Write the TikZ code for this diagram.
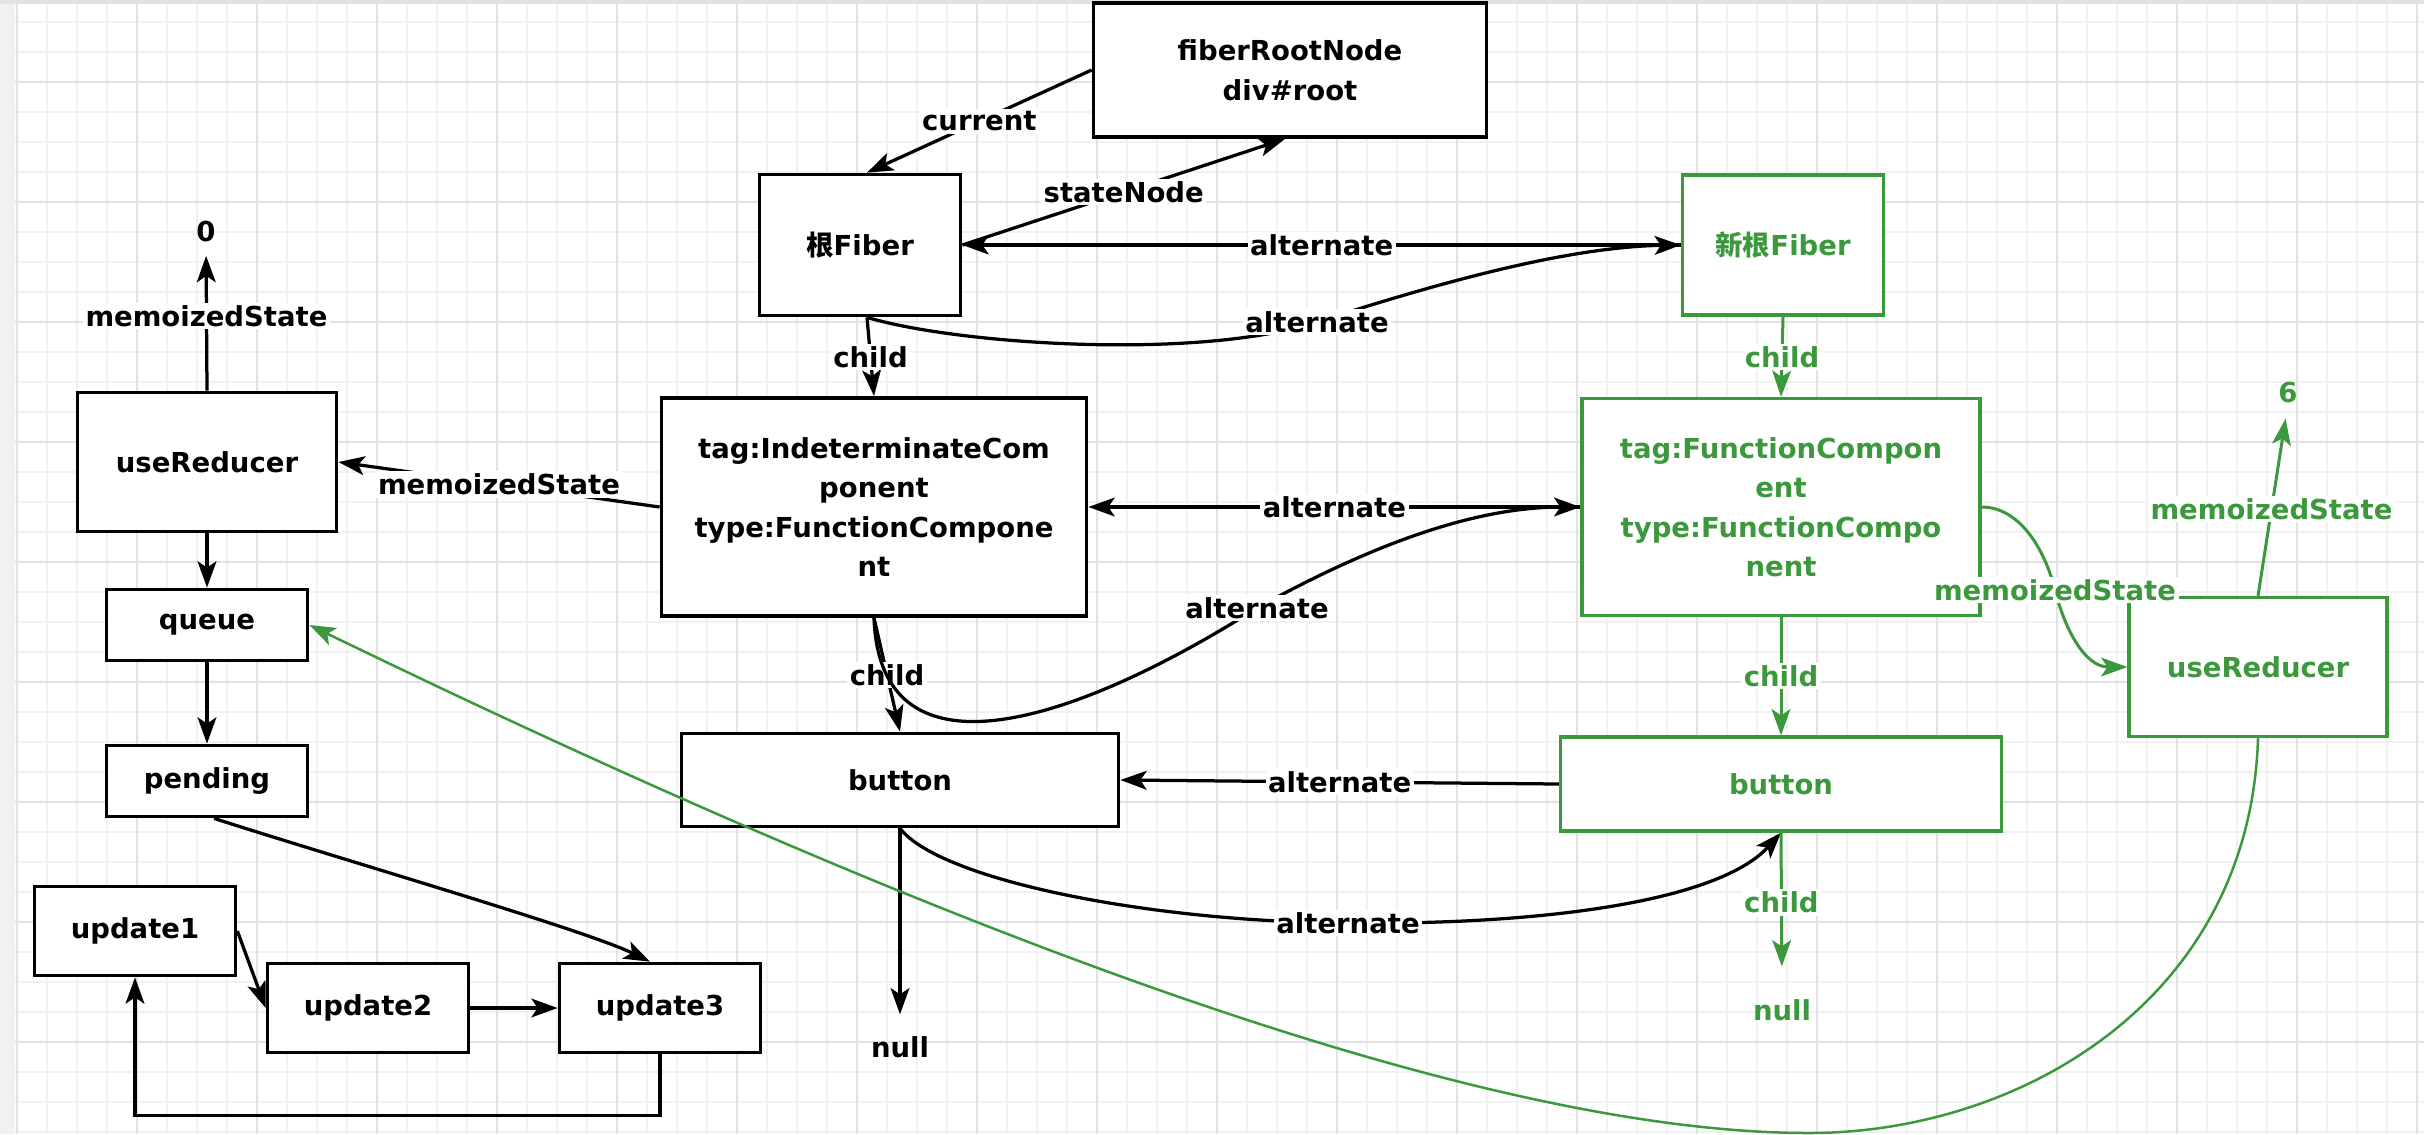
\documentclass[tikz,border=0pt]{standalone}
\usepackage{fontspec}
\setmainfont{DejaVu Sans}
\newfontfamily\cjk{Noto Sans CJK SC}
\usetikzlibrary{arrows.meta,calc}
\definecolor{gr}{RGB}{60,152,60}
\definecolor{gmin}{RGB}{241,241,241}
\definecolor{gmaj}{RGB}{226,226,226}
\newcommand\lblfont{\fontsize{11pt}{15.8pt}\selectfont\bfseries}
\tikzset{
 box/.style={draw=black, line width=1.5pt, fill=white, align=center, inner sep=0pt, font=\lblfont},
 gbox/.style={box, draw=gr, text=gr, line width=1.3pt},
 term/.style={inner sep=0pt, font=\lblfont},
 arr/.style={-{Stealth[length=10.5pt,width=7.5pt,inset=2.5pt]}, line width=1.3pt},
 garr/.style={arr, draw=gr, line width=1.2pt},
 lbl/.style={fill=white, inner sep=1pt, font=\lblfont, text=black},
 glbl/.style={lbl, text=gr},
}
\begin{document}
\begin{tikzpicture}[x=0.4pt,y=-0.4pt]
\useasboundingbox (0,0) rectangle (2424,1134);
\fill[white] (0,0) rectangle (2424,1134);
% grid
\foreach \x in {17,47,...,2424} \draw[gmin, line width=0.5pt] (\x,0) -- (\x,1134);
\foreach \y in {22,52,...,1134} \draw[gmin, line width=0.5pt] (0,\y) -- (2424,\y);
\foreach \x in {17,137,...,2424} \draw[gmaj, line width=0.6pt] (\x,0) -- (\x,1134);
\foreach \y in {82,202,...,1134} \draw[gmaj, line width=0.6pt] (0,\y) -- (2424,\y);
\fill[gmin] (0,0) rectangle (15,1134);
\fill[gmaj] (0,0) rectangle (2424,4);

% nodes
\node[box, minimum width=157.2pt, minimum height=53.6pt] (root) at (1290,70) {fiberRootNode\\div\#root};
\node[box, minimum width=80.4pt, minimum height=56.4pt] (rf) at (860,245) {{\cjk 根}Fiber};
\node[gbox, minimum width=80.4pt, minimum height=56pt] (nrf) at (1783,245) {{\cjk 新根}Fiber};
\node[box, minimum width=170pt, minimum height=87.2pt] (ic) at (874,507) {tag:IndeterminateCom\\ponent\\type:FunctionCompone\\nt};
\node[gbox, minimum width=159.2pt, minimum height=86.8pt] (gfc) at (1781,507) {tag:FunctionCompon\\ent\\type:FunctionCompo\\nent};
\node[box, minimum width=103.6pt, minimum height=55.6pt] (bur) at (207,462) {useReducer};
\node[gbox, minimum width=103.2pt, minimum height=55.6pt] (gur) at (2258,667) {useReducer};
\node[box, minimum width=80.4pt, minimum height=28.4pt] (queue) at (207,625) {queue};
\node[box, minimum width=80.4pt, minimum height=28.4pt] (pending) at (207,781) {pending};
\node[box, minimum width=80.4pt, minimum height=35.6pt] (u1) at (135,931) {update1};
\node[box, minimum width=80.4pt, minimum height=35.6pt] (u2) at (368,1008) {update2};
\node[box, minimum width=80.4pt, minimum height=35.6pt] (u3) at (660,1008) {update3};
\node[box, minimum width=174.8pt, minimum height=37.2pt] (btn) at (900,780) {button};
\node[gbox, minimum width=176.4pt, minimum height=37.6pt] (gbtn) at (1781,784) {button};
\node[term] (null1) at (900,1047) {null};
\node[term, text=gr] (null2) at (1782,1010) {null};
\node[term] (zero) at (206,231) {0};
\node[term, text=gr] (six) at (2288,392) {6};

% black connectors
\draw[arr] (root.west) -- node[lbl]{current} ($(rf.north)+(7,0)$);
\draw[arr] (rf.east) -- node[lbl]{stateNode} ($(root.south)+(-5,0)$);
\draw[arr] (nrf.west) -- node[lbl]{alternate} (rf.east);
\draw[arr] ($(rf.south)+(7,0)$) .. controls (960,345) and (1200,360) .. (1317,322) node[lbl]{alternate} .. controls (1420,289) and (1560,247) .. (nrf.west);
\draw[arr] ($(rf.south)+(7,0)$) -- node[lbl]{child} (ic.north);
\draw[arr] (ic.west) -- node[lbl]{memoizedState} (bur.east);
\draw[arr, shorten >=5.6pt] (bur.north) -- node[lbl]{memoizedState} (zero.south);
\draw[arr] (bur.south) -- (queue.north);
\draw[arr] (queue.south) -- (pending.north);
\draw[arr] ($(pending.south)+(7,0)$) .. controls (350,862) and (585,930) .. ($(u3.north)+(-10,0)$);
\draw[arr] (u1.east) -- (u2.west);
\draw[arr] (u2.east) -- (u3.west);
\draw[arr] (u3.south) -- ++(0,61) -| (u1.south);
\draw[arr] (gfc.west) -- node[lbl]{alternate} (ic.east);
\draw[arr] (ic.south) -- node[lbl]{child} (btn.north);
\draw[arr] (ic.south) .. controls (880,790) and (1080,720) .. (1257,608) node[lbl]{alternate} .. controls (1380,540) and (1480,507) .. (gfc.west);
\draw[arr] (gbtn.west) -- node[lbl]{alternate} (btn.east);
\draw[arr] (btn.south) .. controls (940,880) and (1150,922) .. (1348,923) node[lbl]{alternate} .. controls (1550,925) and (1720,900) .. (gbtn.south);
\draw[arr, shorten >=8.6pt] (btn.south) -- (null1.north);

% green connectors
\draw[garr] (nrf.south) -- node[glbl]{child} (gfc.north);
\draw[garr] (gfc.south) -- node[glbl]{child} (gbtn.north);
\draw[garr, shorten >=13pt] (gbtn.south) -- node[glbl, pos=0.42]{child} (null2.north);
\draw[garr] (gfc.east) .. controls (2020,507) and (2045,550) .. (2055,590) node[glbl]{memoizedState} .. controls (2065,630) and (2085,667) .. (gur.west);
\draw[garr, shorten >=6.4pt] (gur.north) -- node[glbl, pos=0.45]{memoizedState} (six.south);
\draw[garr, line width=1pt] (gur.south) .. controls (2250,1000) and (2020,1133) .. (1809,1133) .. controls (1500,1133) and (1000,960) .. (queue.east);
\end{tikzpicture}
\end{document}
